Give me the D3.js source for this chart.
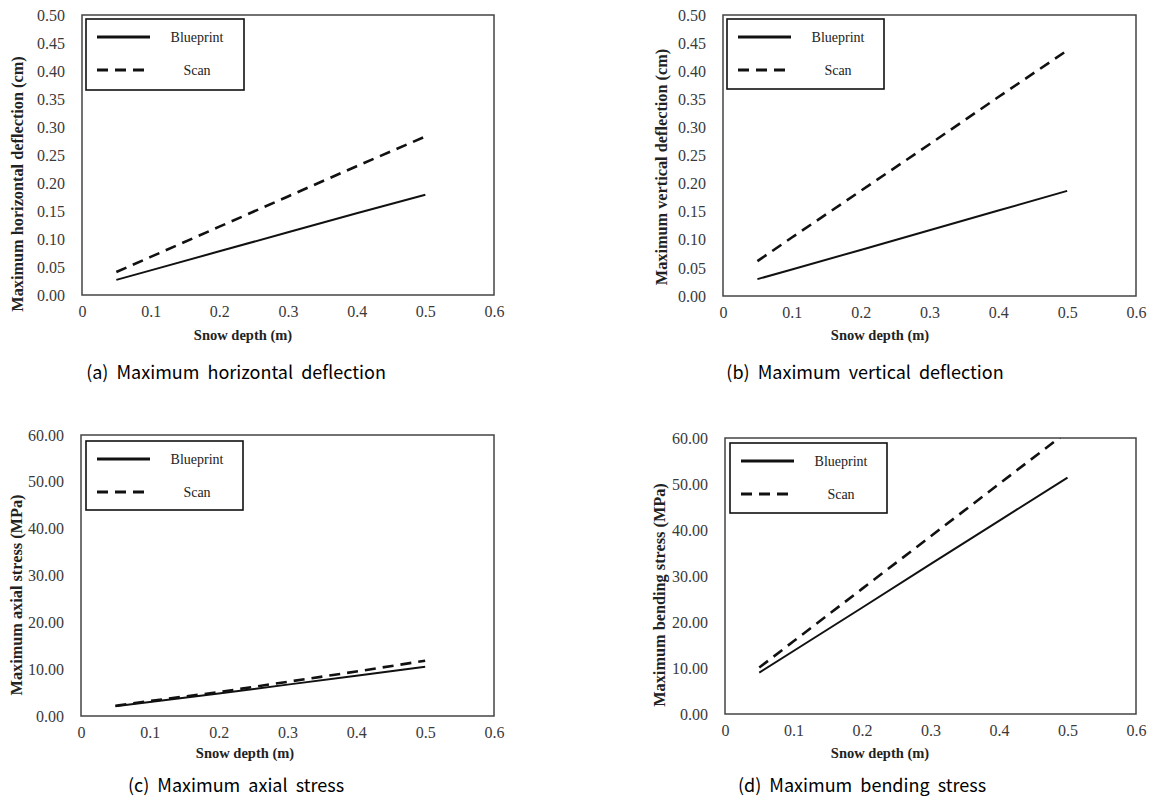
<!DOCTYPE html>
<html>
<head>
<meta charset="utf-8">
<script src="https://cdn.jsdelivr.net/npm/d3@7"></script>
<style>
  body { margin: 0; background: #fff; }
  svg { display: block; }
</style>
</head>
<body>
<svg id="canvas" width="1152" height="805"></svg>
<script>
// snow depth (m)
const depth = [0.05, 0.1, 0.2, 0.3, 0.4, 0.5]

// (a) horizontal deflection (cm)
const horizBlueprint = [0.027, 0.044, 0.078, 0.112, 0.146, 0.179]
const horizScan = [0.041, 0.068, 0.122, 0.176, 0.230, 0.283]
// (b) vertical deflection (cm)
const vertBlueprint = [0.030, 0.047, 0.082, 0.117, 0.152, 0.187]
const vertScan = [0.062, 0.104, 0.187, 0.270, 0.354, 0.437]
// (c) axial stress (MPa)
const axialBlueprint = [2.1, 3.0, 4.8, 6.7, 8.6, 10.5]
const axialScan = [2.2, 3.2, 5.1, 7.3, 9.5, 11.8]
// (d) bending stress (MPa) - scan runs past the 60 axis limit and gets clipped
const bendBlueprint = [9.0, 13.7, 23.1, 32.6, 42.0, 51.4]
const bendScan = [10.1, 15.8, 27.2, 38.6, 50.0, 61.4]

const xTicks = [0, 0.1, 0.2, 0.3, 0.4, 0.5, 0.6]
const deflTicks = [0, 0.05, 0.10, 0.15, 0.20, 0.25, 0.30, 0.35, 0.40, 0.45, 0.50]
const stressTicks = [0, 10, 20, 30, 40, 50, 60]

const seriesNames = ["Blueprint", "Scan"]
const xTitle = "Snow depth (m)"

const panels = [
  { blue: horizBlueprint, scan: horizScan, yTicks: deflTicks, yMax: 0.5,
    yTitle: "Maximum horizontal deflection (cm)", caption: "(a)  Maximum  horizontal  deflection",
    box: {l: 82, r: 494, t: 15, b: 295}, legend: {x: 86, y: 19, w: 158, h: 71},
    xt: {x: 243, y: 340}, yt: {x: 23, y: 184}, cap: {x: 236, y: 379} },
  { blue: vertBlueprint, scan: vertScan, yTicks: deflTicks, yMax: 0.5,
    yTitle: "Maximum vertical deflection (cm)", caption: "(b)  Maximum  vertical  deflection",
    box: {l: 723, r: 1136, t: 15, b: 296}, legend: {x: 727, y: 19, w: 157, h: 70},
    xt: {x: 880, y: 340}, yt: {x: 667, y: 167}, cap: {x: 865, y: 379} },
  { blue: axialBlueprint, scan: axialScan, yTicks: stressTicks, yMax: 60,
    yTitle: "Maximum axial stress (MPa)", caption: "(c)  Maximum  axial  stress",
    box: {l: 81, r: 494, t: 435, b: 716}, legend: {x: 86, y: 441, w: 157, h: 69},
    xt: {x: 245, y: 758}, yt: {x: 22, y: 595}, cap: {x: 236, y: 792} },
  { blue: bendBlueprint, scan: bendScan, yTicks: stressTicks, yMax: 60,
    yTitle: "Maximum bending stress (MPa)", caption: "(d)  Maximum  bending  stress",
    box: {l: 725, r: 1136, t: 438, b: 714}, legend: {x: 730, y: 443, w: 157, h: 70},
    xt: {x: 880, y: 758}, yt: {x: 665, y: 595}, cap: {x: 862, y: 792} }
]

const svg = d3.select("#canvas")
const serif = "'Liberation Serif', 'Times New Roman', serif"
const dash = "11,7"

panels.forEach((p, i) => {
  const x = d3.scaleLinear().domain([0, 0.6]).range([p.box.l, p.box.r])
  const y = d3.scaleLinear().domain([0, p.yMax]).range([p.box.b, p.box.t])
  const g = svg.append("g")

  g.append("clipPath").attr("id", "clip" + i)
    .append("rect")
    .attr("x", p.box.l).attr("y", p.box.t)
    .attr("width", p.box.r - p.box.l).attr("height", p.box.b - p.box.t)

  // axes with no tick marks, only labels
  const yAxis = d3.axisLeft(y).tickValues(p.yTicks).tickSize(0).tickPadding(17)
    .tickFormat(d3.format(".2f"))
  const xAxis = d3.axisBottom(x).tickValues(xTicks).tickSize(0).tickPadding(11)
    .tickFormat(d => d === 0 ? "0" : d3.format(".1f")(d))

  g.append("g").attr("class", "axis").attr("transform", `translate(${p.box.l},0)`).call(yAxis)
  g.append("g").attr("class", "axis").attr("transform", `translate(0,${p.box.b})`).call(xAxis)
  g.selectAll(".domain").remove()
  g.selectAll(".axis text")
    .style("font-family", serif).style("font-size", "16px").style("fill", "#3a3a3a")

  g.append("rect")
    .attr("x", p.box.l).attr("y", p.box.t)
    .attr("width", p.box.r - p.box.l).attr("height", p.box.b - p.box.t)
    .attr("fill", "none").attr("stroke", "#444").attr("stroke-width", 1.5)

  const line = d3.line().x((d, j) => x(depth[j])).y(d => y(d))
  const plot = g.append("g").attr("clip-path", `url(#clip${i})`)
  plot.append("path").datum(p.blue).attr("d", line)
    .attr("fill", "none").attr("stroke", "#111").attr("stroke-width", 2)
  plot.append("path").datum(p.scan).attr("d", line)
    .attr("fill", "none").attr("stroke", "#111").attr("stroke-width", 2.6)
    .attr("stroke-dasharray", dash)

  // legend
  const lg = g.append("g").attr("transform", `translate(${p.legend.x},${p.legend.y})`)
  lg.append("rect").attr("width", p.legend.w).attr("height", p.legend.h)
    .attr("fill", "#fff").attr("stroke", "#111").attr("stroke-width", 1.6)
  seriesNames.forEach((name, k) => {
    const ly = k === 0 ? 18 : 51
    lg.append("line").attr("x1", 11).attr("x2", 64).attr("y1", ly).attr("y2", ly)
      .attr("stroke", "#111").attr("stroke-width", 3)
      .attr("stroke-dasharray", k === 0 ? null : dash)
    lg.append("text").attr("x", 111).attr("y", ly + 5)
      .attr("text-anchor", "middle").attr("font-family", serif).attr("font-size", 14)
      .attr("fill", "#222").text(name)
  })

  g.append("text").attr("x", p.xt.x).attr("y", p.xt.y)
    .attr("text-anchor", "middle").attr("font-family", serif).attr("font-size", 14.5)
    .attr("font-weight", "bold").attr("fill", "#222").text(xTitle)

  g.append("text")
    .attr("transform", `translate(${p.yt.x},${p.yt.y}) rotate(-90)`)
    .attr("text-anchor", "middle").attr("font-family", serif).attr("font-size", 16.3)
    .attr("font-weight", "bold").attr("fill", "#222").text(p.yTitle)

  g.append("text").attr("x", p.cap.x).attr("y", p.cap.y)
    .attr("text-anchor", "middle").attr("font-family", "'Noto Sans CJK KR', 'Noto Sans', sans-serif")
    .attr("font-size", 18).attr("fill", "#000").style("white-space", "pre")
    .text(p.caption)
})
</script>
</body>
</html>
